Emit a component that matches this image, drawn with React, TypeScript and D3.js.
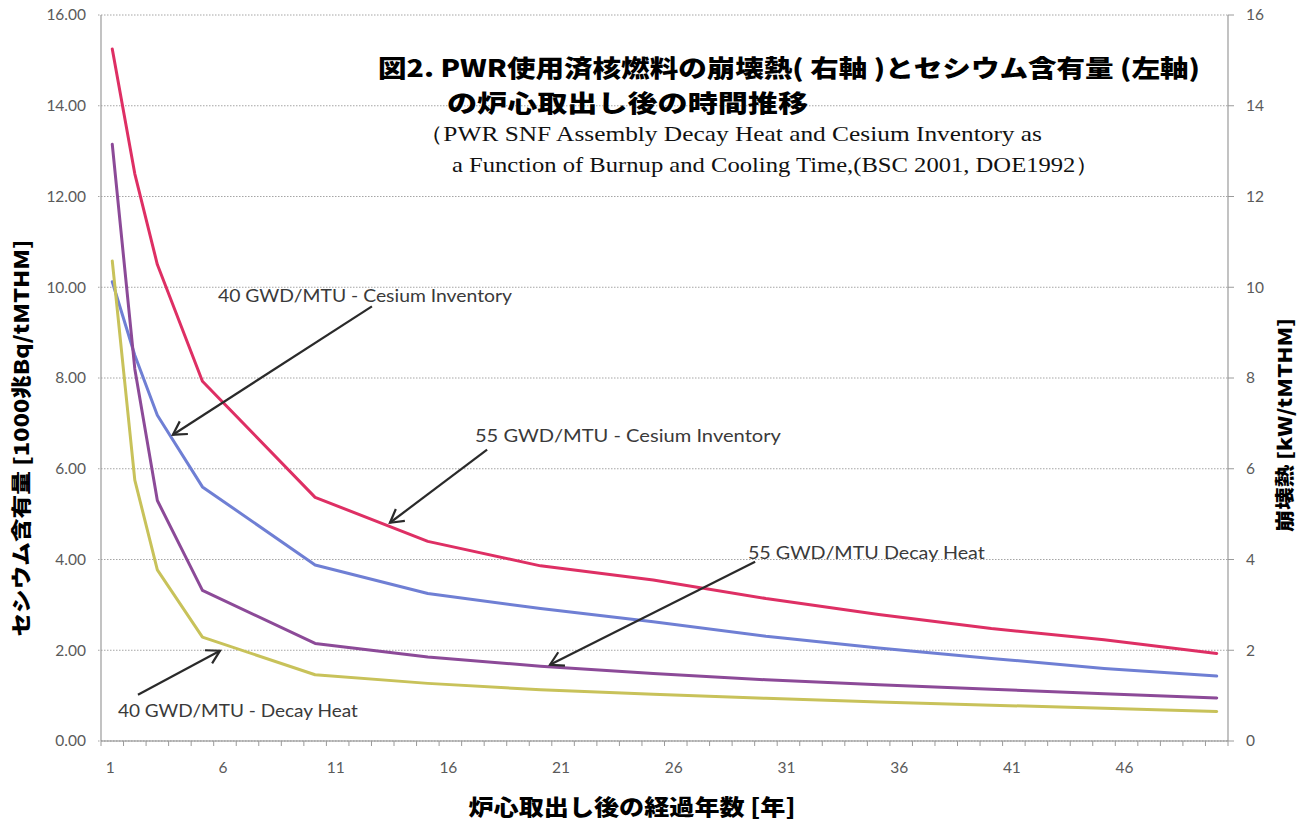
import React from "react";
import * as d3 from "d3";

const years = [1, 2, 3, 5, 10, 15, 20, 25, 30, 35, 40, 45, 50];
const cesium55 = [15.25, 12.5, 10.5, 7.93, 5.37, 4.4, 3.86, 3.55, 3.14, 2.79, 2.48, 2.23, 1.93];
const cesium40 = [10.12, 8.5, 7.18, 5.6, 3.88, 3.25, 2.92, 2.63, 2.31, 2.05, 1.82, 1.6, 1.43];
const heat55 = [13.15, 8.2, 5.3, 3.32, 2.15, 1.85, 1.65, 1.49, 1.35, 1.24, 1.14, 1.04, 0.95];
const heat40 = [10.58, 5.75, 3.77, 2.29, 1.46, 1.27, 1.13, 1.03, 0.94, 0.86, 0.79, 0.72, 0.65];

const categoryCount = 50;
const xTickLabels = [1, 6, 11, 16, 21, 26, 31, 36, 41, 46];
const leftTicks = [0, 2, 4, 6, 8, 10, 12, 14, 16];
const rightTicks = [0, 2, 4, 6, 8, 10, 12, 14, 16];

const annotations = [
  { text: "40 GWD/MTU - Cesium Inventory", tx: 5.69, ty: 9.67, tw: 294, x1: 12.52, y1: 9.58, x2: 3.69, y2: 6.75 },
  { text: "55 GWD/MTU - Cesium Inventory", tx: 17.09, ty: 6.6, tw: 306, x1: 17.63, y1: 6.42, x2: 13.32, y2: 4.81 },
  { text: "55 GWD/MTU Decay Heat", tx: 29.2, ty: 4.02, tw: 237, x1: 29.52, y1: 3.95, x2: 20.42, y2: 1.68 },
  { text: "40 GWD/MTU - Decay Heat", tx: 1.25, ty: 0.53, tw: 240, x1: 2.14, y1: 1.02, x2: 5.78, y2: 1.99 },
];

const W = 1303;
const H = 825;
const plot = { left: 101, right: 1228, top: 15, bottom: 741 };

export default function App() {
  const x = d3.scaleLinear().domain([0.5, categoryCount + 0.5]).range([plot.left, plot.right]);
  const yL = d3.scaleLinear().domain([0, 16]).range([plot.bottom, plot.top]);
  const yR = d3.scaleLinear().domain([0, 16]).range([plot.bottom, plot.top]);

  const mk = (vals: number[], scale: d3.ScaleLinear<number, number>) =>
    d3.line<number>().x((_, i) => x(years[i])).y((v) => scale(v))(vals) || "";

  const series = [
    { vals: cesium55, scale: yL, color: "#de2f64" },
    { vals: cesium40, scale: yL, color: "#6f7fd4" },
    { vals: heat55, scale: yR, color: "#8c4a98" },
    { vals: heat40, scale: yR, color: "#c8c25a" },
  ];

  const boundaries = d3.range(0, categoryCount + 1).map((i) => i + 0.5);
  const tickFont = "Lato, 'Open Sans', sans-serif";
  const gray = "#5a5a5a";
  const jp = "'Noto Sans CJK JP', sans-serif";

  const arrowHead = (x1: number, y1: number, x2: number, y2: number) => {
    const ang = Math.atan2(y2 - y1, x2 - x1);
    const L = 15;
    const a = Math.PI / 6;
    const p1 = [x2 - L * Math.cos(ang - a), y2 - L * Math.sin(ang - a)];
    const p2 = [x2 - L * Math.cos(ang + a), y2 - L * Math.sin(ang + a)];
    return `M${p1[0]},${p1[1]}L${x2},${y2}L${p2[0]},${p2[1]}`;
  };

  return (
    <svg width={W} height={H} style={{ position: "absolute", left: 0, top: 0, background: "#fff" }}>
      {leftTicks.map((t) => (
        <line key={"g" + t} x1={plot.left - 3} x2={plot.right} y1={yL(t)} y2={yL(t)} stroke="#a5a5a5" strokeWidth={1} strokeDasharray="1.5,1.5" />
      ))}
      <line x1={plot.left} x2={plot.left} y1={plot.top} y2={plot.bottom} stroke="#9a9a9a" strokeWidth={1.2} />
      <line x1={plot.right} x2={plot.right} y1={plot.top} y2={plot.bottom} stroke="#9a9a9a" strokeWidth={1.2} />
      <line x1={plot.left} x2={plot.right} y1={plot.bottom} y2={plot.bottom} stroke="#8a8a8a" strokeWidth={1.2} />
      {boundaries.map((b) => (
        <line key={"b" + b} x1={x(b)} x2={x(b)} y1={plot.bottom} y2={plot.bottom + 5} stroke="#9a9a9a" strokeWidth={1} />
      ))}
      {rightTicks.map((t) => (
        <line key={"rt" + t} x1={plot.right} x2={plot.right + 6} y1={yR(t)} y2={yR(t)} stroke="#9a9a9a" strokeWidth={1} />
      ))}
      {leftTicks.map((t) => (
        <text key={"lt" + t} x={86} y={yL(t)} dy="0.35em" textAnchor="end" fontFamily={tickFont} fontSize={15.5} fill={gray}>
          {t.toFixed(2)}
        </text>
      ))}
      {rightTicks.map((t) => (
        <text key={"rl" + t} x={1246} y={yR(t)} dy="0.35em" textAnchor="start" fontFamily={tickFont} fontSize={15.5} fill={gray}>
          {t}
        </text>
      ))}
      {xTickLabels.map((t) => (
        <text key={"xl" + t} x={x(t) - 2} y={773} textAnchor="middle" fontFamily={tickFont} fontSize={15.5} fill={gray}>
          {t}
        </text>
      ))}
      {series.map((s, i) => (
        <path key={"s" + i} d={mk(s.vals, s.scale)} fill="none" stroke={s.color} strokeWidth={3} strokeLinejoin="round" strokeLinecap="round" />
      ))}
      {annotations.map((a, i) => {
        const X1 = x(a.x1), Y1 = yL(a.y1), X2 = x(a.x2), Y2 = yL(a.y2);
        return (
          <g key={"a" + i}>
            <text x={x(a.tx)} y={yL(a.ty)} fontFamily={tickFont} fontSize={17.5} fill="#3a3a3a" textLength={a.tw} lengthAdjust="spacingAndGlyphs">
              {a.text}
            </text>
            <line x1={X1} y1={Y1} x2={X2} y2={Y2} stroke="#2a2a2a" strokeWidth={2.2} />
            <path d={arrowHead(X1, Y1, X2, Y2)} fill="none" stroke="#2a2a2a" strokeWidth={2.2} />
          </g>
        );
      })}
      <text x={378} y={77} fontFamily={jp} fontWeight={900} fontSize={24} fill="#000" textLength={822} lengthAdjust="spacingAndGlyphs">
        図2. PWR使用済核燃料の崩壊熱( 右軸 )とセシウム含有量 (左軸)
      </text>
      <text x={447} y={112} fontFamily={jp} fontWeight={900} fontSize={24} fill="#000" textLength={361} lengthAdjust="spacingAndGlyphs">
        の炉心取出し後の時間推移
      </text>
      <text x={418} y={141} fontFamily="'Liberation Serif', serif" fontSize={21} fill="#111" textLength={624} lengthAdjust="spacingAndGlyphs">
        （PWR SNF Assembly Decay Heat and Cesium Inventory as
      </text>
      <text x={452} y={172} fontFamily="'Liberation Serif', serif" fontSize={21} fill="#111" textLength={648} lengthAdjust="spacingAndGlyphs">
        a Function of Burnup and Cooling Time,(BSC 2001, DOE1992）
      </text>
      <text transform="translate(29,438) rotate(-90)" textAnchor="middle" fontFamily={jp} fontWeight={900} fontSize={20} fill="#000" textLength={397} lengthAdjust="spacingAndGlyphs">
        セシウム含有量 [1000兆Bq/tMTHM]
      </text>
      <text transform="translate(1292,425) rotate(-90)" textAnchor="middle" fontFamily={jp} fontWeight={900} fontSize={19} fill="#000" textLength={214} lengthAdjust="spacingAndGlyphs">
        崩壊熱 [kW/tMTHM]
      </text>
      <text x={632} y={815} textAnchor="middle" fontFamily={jp} fontWeight={900} fontSize={22} fill="#000" textLength={327} lengthAdjust="spacingAndGlyphs">
        炉心取出し後の経過年数 [年]
      </text>
    </svg>
  );
}
